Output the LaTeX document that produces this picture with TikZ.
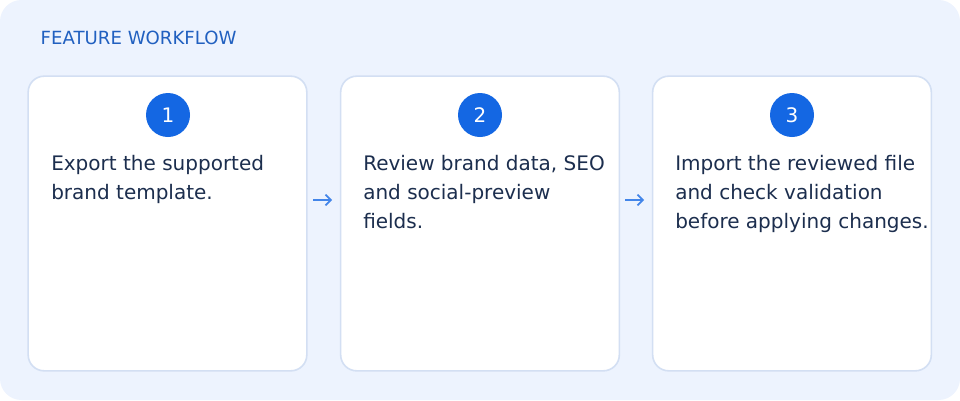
\documentclass[tikz,border=0pt]{standalone}
\usepackage{fontspec}
\setmainfont{DejaVu Sans}
\usetikzlibrary{positioning,arrows.meta}
\definecolor{mybg}{HTML}{EDF3FE}
\definecolor{myborder}{HTML}{D3DFF3}
\definecolor{myblue}{HTML}{1467E3}
\definecolor{mytitle}{HTML}{2160C0}
\definecolor{mytext}{HTML}{1C2E4E}
\tikzstyle{card}=[draw=myborder,fill=white,line width=1.2pt,rounded corners=12pt,minimum width=209pt,minimum height=221pt,inner sep=0pt]
\tikzstyle{badge}=[fill=myblue,circle,minimum size=33pt,inner sep=0pt,text=white,font=\fontsize{15}{17}\selectfont]
\tikzstyle{steptext}=[text=mytext,align=left,anchor=north west,inner sep=0pt,font=\fontsize{15}{21.75}\selectfont]
\tikzstyle{flow}=[-{Straight Barb[length=4pt,width=8pt]},myblue!80,line width=1.2pt]

\begin{document}
\begin{tikzpicture}[x=0.75pt,y=-0.75pt]
\useasboundingbox (0,0) rectangle (960,400);
\fill[mybg,rounded corners=16pt] (0,0) rectangle (960,400);
\node[anchor=west,text=mytitle,font=\fontsize{13.6}{16}\selectfont] (title) at (36,38) {FEATURE WORKFLOW};
\node[card] (c1) at (167.5,223.5) {};
\node[card] (c2) at (480,223.5) {};
\node[card] (c3) at (792,223.5) {};
\node[badge] (b1) at (168,115) {1};
\node[badge] (b2) at (480,115) {2};
\node[badge] (b3) at (792,115) {3};
\node[steptext] (t1) at (51,155) {Export the supported\\brand template.};
\node[steptext] (t2) at (363,155) {Review brand data, SEO\\and social-preview\\fields.};
\node[steptext] (t3) at (675,155) {Import the reviewed file\\and check validation\\before applying changes.};
\coordinate (a1) at (313,200);
\coordinate (a2) at (332,200);
\coordinate (a3) at (625,200);
\coordinate (a4) at (644,200);
\draw[flow] (a1) -- (a2);
\draw[flow] (a3) -- (a4);
\end{tikzpicture}
\end{document}
